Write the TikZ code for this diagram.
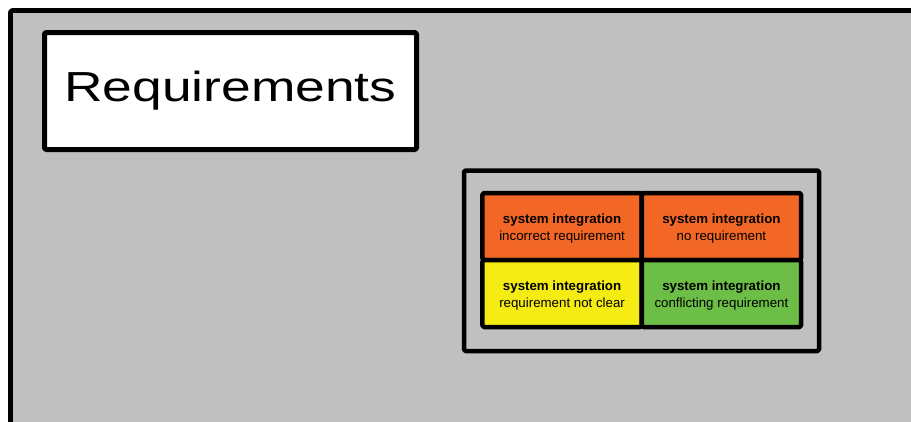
\documentclass[tikz,border=0pt]{standalone}
\usepackage{fontspec}
\setmainfont{Liberation Sans}
\definecolor{panelgray}{RGB}{192,192,192}
\definecolor{issueorange}{RGB}{242,103,37}
\definecolor{issueyellow}{RGB}{245,236,20}
\definecolor{issuegreen}{RGB}{108,190,70}
\newcommand{\issuetext}[1]{\rule{0pt}{13.5pt}\textbf{system integration}\\#1}
\begin{document}
\begin{tikzpicture}[x=1pt,y=-1pt,
  frameline/.style={draw=black, line join=round, rounded corners=1.5pt},
  cell/.style={frameline, line width=4.5pt, minimum width=159.25pt, minimum height=67pt,
    inner sep=0pt, align=center, font=\fontsize{13.3}{16.5}\selectfont},
]
\useasboundingbox (0,0) rectangle (911,421);
% grey panel that runs off the right and bottom edges
\begin{scope}
  \clip (0,0) rectangle (911,421);
  \draw[frameline, line width=4.7pt, fill=panelgray] (10.5,10.5) rectangle (930,440);
\end{scope}
% title box
\node[frameline, line width=5pt, fill=white, minimum width=372pt, minimum height=117pt, inner sep=0pt]
  (title) at (230.5,91) {\raisebox{-1pt}{\scalebox{1.27}[1]{\fontsize{42}{42}\selectfont Requirements}}};
% outer frame around the issue grid
\node[frameline, line width=4.5pt, minimum width=355pt, minimum height=180.5pt, inner sep=0pt]
  (frame) at (641.5,260.75) {};
% issue cells
\node[cell, fill=issueorange] (incorrect) at (562.1,226.5) {\issuetext{incorrect requirement}};
\node[cell, fill=issueorange] (norequirement) at (721.4,226.5) {\issuetext{no requirement}};
\node[cell, fill=issueyellow] (notclear) at (562.1,293.5) {\issuetext{requirement not clear}};
\node[cell, fill=issuegreen] (conflicting) at (721.4,293.5) {\issuetext{conflicting requirement}};
\end{tikzpicture}
\end{document}
